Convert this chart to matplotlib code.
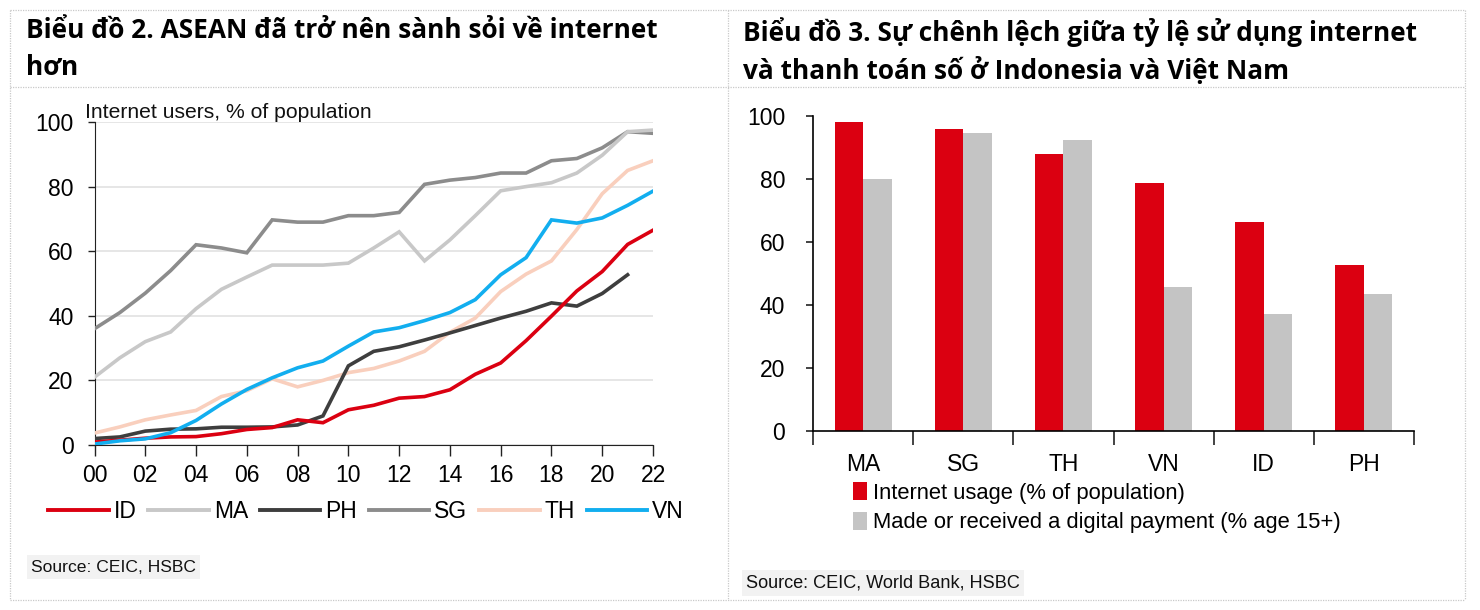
import numpy as np
import matplotlib
matplotlib.use("Agg")
import matplotlib.pyplot as plt
from matplotlib.lines import Line2D

W, H = 1480, 610

years = np.arange(2000, 2023)
id_vals = [0.9, 1.5, 2.1, 2.5, 2.6, 3.5, 4.8, 5.4, 7.8, 6.9, 10.9, 12.3, 14.5, 15, 17.1, 21.9, 25.4, 32.3, 39.9, 47.7, 53.7, 62.1, 66.5]
ma_vals = [21, 27, 32, 35, 42.2, 48.2, 52, 55.7, 55.7, 55.7, 56.3, 61, 66, 57, 63.5, 71, 78.7, 80, 81.2, 84.2, 89.7, 97, 97.5]
ph_vals = [2, 2.5, 4.3, 4.9, 5, 5.5, 5.5, 5.6, 6.2, 9, 24.5, 29, 30.4, 32.5, 34.7, 37, 39.3, 41.4, 44, 43, 46.9, 52.7]
sg_vals = [36, 41, 47, 54, 62, 61, 59.5, 69.7, 69, 69, 71, 71, 72, 80.7, 82, 82.8, 84.2, 84.2, 88, 88.7, 92, 97, 96.5]
th_vals = [3.7, 5.6, 7.8, 9.3, 10.7, 15, 16.8, 20.5, 18, 20, 22.4, 23.7, 26, 29, 34.9, 39.3, 47.5, 52.9, 57, 66.7, 77.8, 85, 88]
vn_vals = [0.3, 1.3, 1.9, 3.8, 7.6, 12.7, 17.2, 20.8, 23.9, 26, 30.6, 35, 36.3, 38.5, 41, 45, 52.7, 58, 69.7, 68.7, 70.3, 74.2, 78.6]
line_names = ["ID", "MA", "PH", "SG", "TH", "VN"]
line_colors = ["#db0011", "#c8c8c8", "#3e3e3e", "#8c8c8c", "#f9cfbd", "#12aeef"]
# drawing order, later ones on top
line_order = ["SG", "MA", "TH", "PH", "ID", "VN"]

countries = ["MA", "SG", "TH", "VN", "ID", "PH"]
internet_usage = [98, 96, 88, 78.6, 66.5, 52.7]
digital_payment = [80, 94.7, 92.3, 45.8, 37, 43.4]

title_left = "Biểu đồ 2. ASEAN đã trở nên sành sỏi về internet\nhơn"
title_right = "Biểu đồ 3. Sự chênh lệch giữa tỷ lệ sử dụng internet\nvà thanh toán số ở Indonesia và Việt Nam"

plt.rcParams["font.family"] = ["Liberation Sans"]


def px_axes(fig, x0, y0, x1, y1):
    # pixel box from the top left corner
    return fig.add_axes([x0 / W, 1 - y1 / H, (x1 - x0) / W, (y1 - y0) / H])


fig = plt.figure(figsize=(W / 100, H / 100), dpi=100, facecolor="white")

# dotted frame of the two panels
frame = dict(color="#c9c9c9", lw=0.9, ls=(0, (1, 1)), transform=fig.transFigure)
for y in [10, 87, 600]:
    fig.add_artist(Line2D([10 / W, 1465 / W], [1 - y / H, 1 - y / H], **frame))
for x in [10, 728, 1465]:
    fig.add_artist(Line2D([x / W, x / W], [1 - 10 / H, 1 - 600 / H], **frame))

fig.text(26 / W, 1 - 17 / H, title_left, fontsize=18.9, fontweight="bold", family="Open Sans",
         va="top", ha="left", linespacing=1.47, color="black")
fig.text(743 / W, 1 - 17 / H, title_right, fontsize=18.9, fontweight="bold", family="Open Sans",
         va="top", ha="left", linespacing=1.47, color="black")

# left chart
ax = px_axes(fig, 94.5, 122, 653, 445)
series = dict(zip(line_names, [id_vals, ma_vals, ph_vals, sg_vals, th_vals, vn_vals]))
colors = dict(zip(line_names, line_colors))
for name in line_order:
    vals = series[name]
    ax.plot(years[:len(vals)], vals, color=colors[name], lw=2.6, solid_joinstyle="miter", zorder=3)
ax.set_xlim(2000, 2022)
ax.set_ylim(0, 100)
ax.set_yticks(range(0, 101, 20))
ax.set_xticks(years[::2])
ax.set_xticklabels([f"{y % 100:02d}" for y in years[::2]])
ax.grid(axis="y", color="#e6e6e6", lw=1.4, zorder=0)
ax.set_axisbelow(True)
ax.tick_params(axis="y", labelsize=16.5, length=5, width=1, pad=10, color="#222222")
ax.tick_params(axis="x", labelsize=16.5, length=8, width=1, pad=6, color="#222222")
for s in ["top", "right"]:
    ax.spines[s].set_visible(False)
ax.spines["left"].set_color("#222222")
ax.spines["bottom"].set_color("#222222")
fig.text(85 / W, 1 - 113 / H, "Internet users, % of population", fontsize=15.2,
         va="center", ha="left", color="#111111")

handles = [Line2D([], [], color=c, lw=2.8) for c in line_colors]
fig.legend(handles, line_names, loc="center left", bbox_to_anchor=(48 / W, 1 - 512 / H), ncol=6,
           frameon=False, prop={"size": 16.5}, handlelength=2.65, handletextpad=0.22,
           columnspacing=0.5, borderpad=0, borderaxespad=0)

fig.text(31 / W, 1 - 567 / H, "Source: CEIC, HSBC", fontsize=12.6, va="center", ha="left",
         color="#111111", bbox=dict(facecolor="#f2f2f2", edgecolor="none", pad=3))

# right chart
ax2 = px_axes(fig, 813, 116, 1414, 431)
pos = np.arange(len(countries))
w = 0.285
ax2.bar(pos - w / 2, internet_usage, w, color="#db0011", label="Internet usage (% of population)")
ax2.bar(pos + w / 2, digital_payment, w, color="#c4c4c4", label="Made or received a digital payment (% age 15+)")
ax2.set_xlim(-0.5, len(countries) - 0.5)
ax2.set_ylim(0, 100)
ax2.set_yticks(range(0, 101, 20))
ax2.set_xticks(pos)
ax2.set_xticklabels(countries)
ax2.tick_params(axis="y", labelsize=16.5, length=5, width=1.2, pad=15, color="#222222")
ax2.tick_params(axis="x", labelsize=16.5, length=0, pad=16)
# tick marks sit between the groups
ax2.set_xticks(np.arange(-0.5, len(countries)), minor=True)
ax2.tick_params(axis="x", which="minor", length=10, width=1.2, color="#222222")
for s in ["top", "right"]:
    ax2.spines[s].set_visible(False)
ax2.spines["left"].set_linewidth(1.2)
ax2.spines["bottom"].set_linewidth(1.2)
ax2.legend(loc="upper left", bbox_to_anchor=(853 / W, 1 - 482 / H), bbox_transform=fig.transFigure,
           frameon=False, fontsize=15.8, handlelength=0.62, handleheight=0.9, handletextpad=0.28,
           labelspacing=0.36, borderpad=0, borderaxespad=0)

fig.text(746 / W, 1 - 583 / H, "Source: CEIC, World Bank, HSBC", fontsize=13.1, va="center", ha="left",
         color="#111111", bbox=dict(facecolor="#f2f2f2", edgecolor="none", pad=3))

fig.savefig("out.png", dpi=100)
